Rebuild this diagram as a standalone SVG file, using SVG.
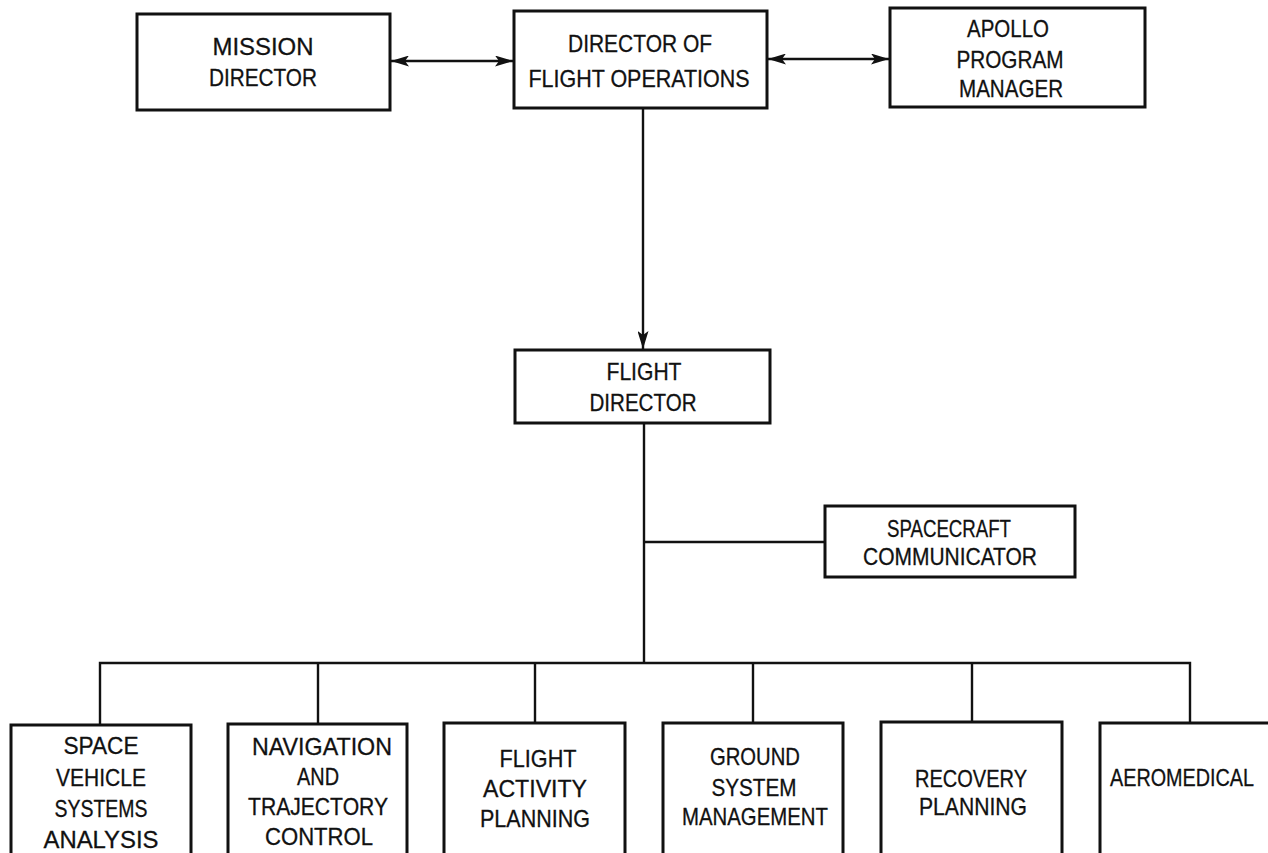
<svg xmlns="http://www.w3.org/2000/svg" width="1268" height="853" viewBox="0 0 1268 853">
<style>
.box{fill:#fff;stroke:#111;stroke-width:3}
.ln{fill:none;stroke:#111;stroke-width:2.4}
text{font-family:"Liberation Sans",Arial,sans-serif;font-size:24px;fill:#111;stroke:#111;stroke-width:0.3;text-anchor:middle}
</style>
<defs>
<marker id="ah" viewBox="0 0 18 11" refX="18" refY="5.5" markerWidth="18" markerHeight="11" markerUnits="userSpaceOnUse" orient="auto-start-reverse">
<path d="M0,0 L18,5.5 L0,11 L4,5.5 Z" fill="#111"/>
</marker>
</defs>
<rect width="1268" height="853" fill="#fff"/>
<g id="connectors">
<line class="ln" x1="391" y1="61" x2="513" y2="61" marker-start="url(#ah)" marker-end="url(#ah)"/>
<line class="ln" x1="768" y1="59" x2="889" y2="59" marker-start="url(#ah)" marker-end="url(#ah)"/>
<line class="ln" x1="643" y1="108" x2="643" y2="349" marker-end="url(#ah)"/>
<line class="ln" x1="644" y1="423" x2="644" y2="663"/>
<line class="ln" x1="644" y1="542" x2="825" y2="542"/>
<polyline class="ln" points="100,724 100,663 1190,663 1190,724"/>
<line class="ln" x1="318" y1="663" x2="318" y2="724"/>
<line class="ln" x1="535" y1="663" x2="535" y2="724"/>
<line class="ln" x1="753" y1="663" x2="753" y2="724"/>
<line class="ln" x1="972" y1="663" x2="972" y2="724"/>
</g>
<g id="mission-director">
<rect class="box" x="137" y="14" width="253" height="96"/>
<text x="263" y="55" textLength="101" lengthAdjust="spacingAndGlyphs">MISSION</text>
<text x="263" y="86" textLength="108" lengthAdjust="spacingAndGlyphs">DIRECTOR</text>
</g>
<g id="director-flight-operations">
<rect class="box" x="514" y="11" width="253" height="97"/>
<text x="640" y="52" textLength="144" lengthAdjust="spacingAndGlyphs">DIRECTOR OF</text>
<text x="639" y="87" textLength="221" lengthAdjust="spacingAndGlyphs">FLIGHT OPERATIONS</text>
</g>
<g id="apollo-program-manager">
<rect class="box" x="890" y="8" width="255" height="99"/>
<text x="1008" y="37" textLength="82" lengthAdjust="spacingAndGlyphs">APOLLO</text>
<text x="1010" y="68" textLength="107" lengthAdjust="spacingAndGlyphs">PROGRAM</text>
<text x="1011" y="97" textLength="104" lengthAdjust="spacingAndGlyphs">MANAGER</text>
</g>
<g id="flight-director">
<rect class="box" x="515" y="350" width="255" height="73"/>
<text x="644" y="380" textLength="75" lengthAdjust="spacingAndGlyphs">FLIGHT</text>
<text x="643" y="411" textLength="107" lengthAdjust="spacingAndGlyphs">DIRECTOR</text>
</g>
<g id="spacecraft-communicator">
<rect class="box" x="825" y="506" width="250" height="71"/>
<text x="949" y="537" textLength="124" lengthAdjust="spacingAndGlyphs">SPACECRAFT</text>
<text x="950" y="565" textLength="174" lengthAdjust="spacingAndGlyphs">COMMUNICATOR</text>
</g>
<g id="space-vehicle-systems-analysis">
<rect class="box" x="11" y="725" width="180" height="150"/>
<text x="101" y="754" textLength="75" lengthAdjust="spacingAndGlyphs">SPACE</text>
<text x="101" y="786" textLength="90" lengthAdjust="spacingAndGlyphs">VEHICLE</text>
<text x="101" y="817" textLength="93" lengthAdjust="spacingAndGlyphs">SYSTEMS</text>
<text x="101" y="848" textLength="115" lengthAdjust="spacingAndGlyphs">ANALYSIS</text>
</g>
<g id="navigation-trajectory-control">
<rect class="box" x="228" y="724" width="179" height="150"/>
<text x="322" y="755" textLength="140" lengthAdjust="spacingAndGlyphs">NAVIGATION</text>
<text x="318" y="785" textLength="42" lengthAdjust="spacingAndGlyphs">AND</text>
<text x="318" y="815" textLength="140" lengthAdjust="spacingAndGlyphs">TRAJECTORY</text>
<text x="319" y="845" textLength="108" lengthAdjust="spacingAndGlyphs">CONTROL</text>
</g>
<g id="flight-activity-planning">
<rect class="box" x="444" y="723" width="181" height="150"/>
<text x="538" y="767" textLength="77" lengthAdjust="spacingAndGlyphs">FLIGHT</text>
<text x="535" y="797" textLength="104" lengthAdjust="spacingAndGlyphs">ACTIVITY</text>
<text x="535" y="827" textLength="110" lengthAdjust="spacingAndGlyphs">PLANNING</text>
</g>
<g id="ground-system-management">
<rect class="box" x="663" y="723" width="180" height="150"/>
<text x="755" y="765" textLength="90" lengthAdjust="spacingAndGlyphs">GROUND</text>
<text x="754" y="796" textLength="85" lengthAdjust="spacingAndGlyphs">SYSTEM</text>
<text x="755" y="825" textLength="146" lengthAdjust="spacingAndGlyphs">MANAGEMENT</text>
</g>
<g id="recovery-planning">
<rect class="box" x="881" y="722" width="181" height="150"/>
<text x="971" y="787" textLength="112" lengthAdjust="spacingAndGlyphs">RECOVERY</text>
<text x="973" y="815" textLength="108" lengthAdjust="spacingAndGlyphs">PLANNING</text>
</g>
<g id="aeromedical">
<rect class="box" x="1100" y="723" width="171" height="150"/>
<text x="1182" y="786" textLength="144" lengthAdjust="spacingAndGlyphs">AEROMEDICAL</text>
</g>
</svg>
